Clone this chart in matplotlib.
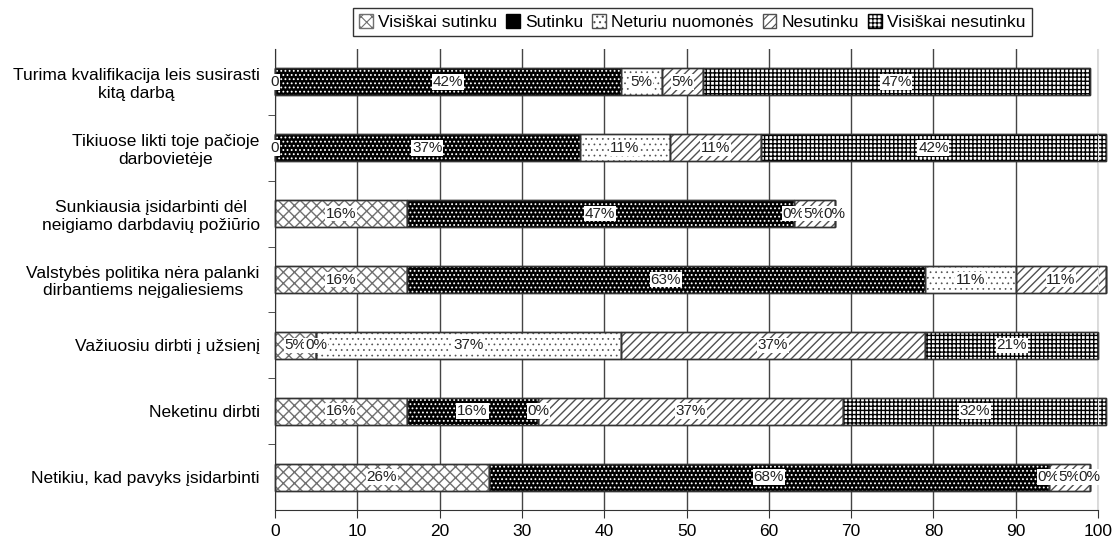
import matplotlib
matplotlib.use("Agg")
import matplotlib.pyplot as plt
from matplotlib.patches import Patch

plt.rcParams['font.family'] = ['Liberation Sans', 'DejaVu Sans']
plt.rcParams['hatch.linewidth'] = 1.0

categories = [
    "Turima kvalifikacija leis susirasti\nkitą darbą",
    "Tikiuose likti toje pačioje\ndarbovietėje",
    "Sunkiausia įsidarbinti dėl\nneigiamo darbdavių požiūrio",
    "Valstybės politika nėra palanki\ndirbantiems neįgaliesiems",
    "Važiuosiu dirbti į užsienį",
    "Neketinu dirbti",
    "Netikiu, kad pavyks įsidarbinti",
]
series_names = ["Visiškai sutinku", "Sutinku", "Neturiu nuomonės", "Nesutinku", "Visiškai nesutinku"]
visiskai_sutinku = [0, 0, 16, 16, 5, 16, 26]
sutinku = [42, 37, 47, 63, 0, 16, 68]
neturiu_nuomones = [5, 11, 0, 11, 37, 0, 0]
nesutinku = [5, 11, 5, 11, 37, 37, 5]
visiskai_nesutinku = [47, 42, 0, 0, 21, 32, 0]
xticks = [0, 10, 20, 30, 40, 50, 60, 70, 80, 90, 100]

series = [visiskai_sutinku, sutinku, neturiu_nuomones, nesutinku, visiskai_nesutinku]
styles = [
    dict(face="white", hatch="xxx", hcol="#707070", hlw=1.0),
    dict(face="black", hatch="....", hcol="white", hlw=0.8),
    dict(face="white", hatch="...", hcol="#505050", hlw=0.5),
    dict(face="white", hatch="////", hcol="#505050", hlw=1.0),
    dict(face="white", hatch="++++", hcol="black", hlw=1.0),
]

fig = plt.figure(figsize=(11.15, 5.39), dpi=100)
ax = fig.add_axes([0.2466, 0.0538, 0.9848 - 0.2466, 0.909 - 0.0538])

ypos = list(range(len(categories)))
height = 0.41
left = [0] * len(categories)
for si, (vals, st) in enumerate(zip(series, styles)):
    ax.barh(ypos, vals, left=left, height=height, color=st["face"], edgecolor="#333333",
            linewidth=1.0, zorder=2, clip_on=False)
    plt.rcParams['hatch.linewidth'] = st["hlw"]
    ax.barh(ypos, vals, left=left, height=height, color="none", edgecolor=st["hcol"],
            hatch=st["hatch"], linewidth=0, zorder=2.5, clip_on=False)
    ax.barh(ypos, vals, left=left, height=height, color="none", edgecolor="#333333",
            linewidth=1.0, zorder=2.6, clip_on=False)
    for i, v in enumerate(vals):
        cx = left[i] + v / 2
        if cx > 100:
            continue
        txt = "0" if (si == 0 and v == 0) else f"{v}%"
        ax.text(cx, i, txt, ha="center", va="center", fontsize=11, color="#222222", zorder=4,
                bbox=dict(facecolor="white", edgecolor="none", pad=0.6))
    left = [l + v for l, v in zip(left, vals)]

ax.set_xlim(0, 100)
ax.set_ylim(len(categories) - 0.5, -0.5)
ax.set_xticks(xticks)
ax.set_xticklabels([str(t) for t in xticks], fontsize=12.5)
ax.set_yticks(ypos)
ax.set_yticklabels(categories, fontsize=12.5, multialignment="center")
ax.tick_params(axis="y", which="major", length=0, pad=11)
ax.set_yticks([i + 0.5 for i in ypos[:-1]], minor=True)
ax.tick_params(axis="y", which="minor", length=5, color="#333333")
ax.tick_params(axis="x", length=6, color="#333333", pad=4)
ax.xaxis.grid(True, color="#444444", linewidth=1.0, zorder=0)
ax.set_axisbelow(True)
ax.spines["top"].set_visible(False)
ax.spines["right"].set_color("#dddddd")
ax.spines["left"].set_color("#333333")
ax.spines["bottom"].set_color("#333333")

plt.rcParams['hatch.linewidth'] = 0.8
handles = [Patch(facecolor=st["face"], edgecolor=st["hcol"] if st["face"] == "white" else "black",
                 hatch=st["hatch"]) for st in styles]
leg = fig.legend(handles, series_names, loc="center", bbox_to_anchor=(0.621, 0.959), ncol=5,
                 fontsize=12.5, frameon=True, fancybox=False, edgecolor="black",
                 handlelength=0.8, handleheight=0.8, handletextpad=0.3, columnspacing=0.5,
                 borderpad=0.35)
leg.get_frame().set_linewidth(1.0)

fig.savefig("out.png", dpi=100)
